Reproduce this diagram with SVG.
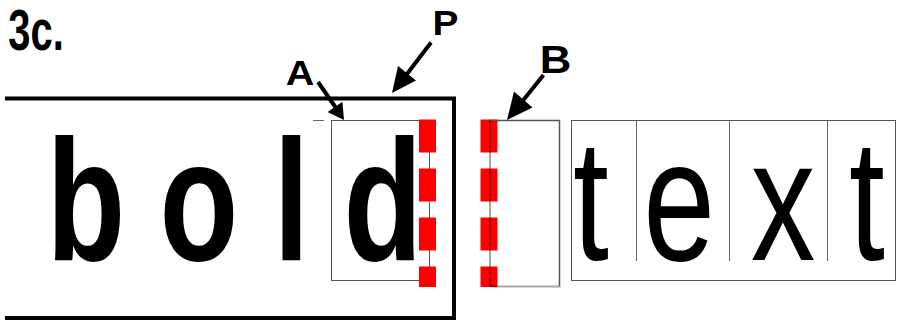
<svg xmlns="http://www.w3.org/2000/svg" width="897" height="320" viewBox="0 0 897 320">
<style>
.big{font-family:"Liberation Sans",Arial,sans-serif;font-size:172px;fill:#000;text-anchor:middle}
.bold{font-weight:bold}
.lbl{font-family:"Liberation Sans",Arial,sans-serif;font-weight:bold;fill:#000;text-anchor:middle}
.box{fill:none;stroke:#555;stroke-width:1}
.div{stroke:#666;stroke-width:1}
.red{stroke:#ff0000;stroke-width:17;stroke-dasharray:33 16;fill:none}
.arr{stroke:#000;stroke-width:4;fill:none}
.head{fill:#000}
</style>
<rect width="897" height="320" fill="#fff"/>
<g id="title">
<text class="lbl" transform="translate(36,49.5) scale(0.7,1)" style="font-size:57px">3c.</text>
</g>
<g id="frameP">
<path d="M5,98.5 H454 V318 H5" fill="none" stroke="#000" stroke-width="4"/>
</g>
<g id="boxL">
<line x1="313" y1="120.5" x2="324" y2="120.5" class="div"/>
</g>
<g id="bold">
<text class="big bold" transform="translate(86,260) scale(0.75,1)">b</text>
<text class="big bold" transform="translate(199,260) scale(0.75,1)">o</text>
<text class="big bold" transform="translate(291.5,260) scale(0.75,1)">l</text>
</g>
<g id="boxA">
<rect x="331.5" y="120.5" width="98" height="160" class="box"/>
<text class="big bold" transform="translate(383,260) scale(0.75,1)">d</text>
<line x1="427.5" y1="119.5" x2="427.5" y2="287" class="red"/>
</g>
<g id="boxB">
<line x1="489" y1="119.5" x2="489" y2="287" class="red"/>
<path d="M490,286.5 V120.5 H559.5 V286.5 H490" fill="none" stroke="#000" stroke-opacity="0.35" stroke-width="2"/>
<path d="M490,120.5 H559.5 V286" fill="none" stroke="#555" stroke-width="1"/>
</g>
<g id="text">
<rect x="571.5" y="120.5" width="324" height="160" class="box"/>
<line x1="636.5" y1="121" x2="636.5" y2="261" class="div"/>
<line x1="729.5" y1="121" x2="729.5" y2="261" class="div"/>
<line x1="827.5" y1="121" x2="827.5" y2="261" class="div"/>
<text class="big" transform="translate(591,260) scale(0.75,1)">t</text>
<text class="big" transform="translate(679,260) scale(0.75,1)">e</text>
<text class="big" transform="translate(783,260) scale(0.75,1)">x</text>
<text class="big" transform="translate(867,260) scale(0.75,1)">t</text>
</g>
<g id="labels">
<text class="lbl" transform="translate(300,85) scale(1.1,1)" style="font-size:36px">A</text>
<text class="lbl" transform="translate(445.5,35) scale(1.08,1)" style="font-size:36px">P</text>
<text class="lbl" transform="translate(555.5,73) scale(1.12,1)" style="font-size:39px">B</text>
</g>
<g id="connectors">
<line x1="318" y1="82" x2="336" y2="108" class="arr"/>
<polygon points="344,120 327.6,111.9 342.4,101.7" class="head"/>
<line x1="431" y1="42.5" x2="407" y2="74" class="arr"/>
<polygon points="392,93 416,80.5 398,66" class="head"/>
<line x1="543.5" y1="75" x2="523" y2="100.5" class="arr"/>
<polygon points="507,120 532.5,107.5 514,91.5" class="head"/>
</g>
</svg>
